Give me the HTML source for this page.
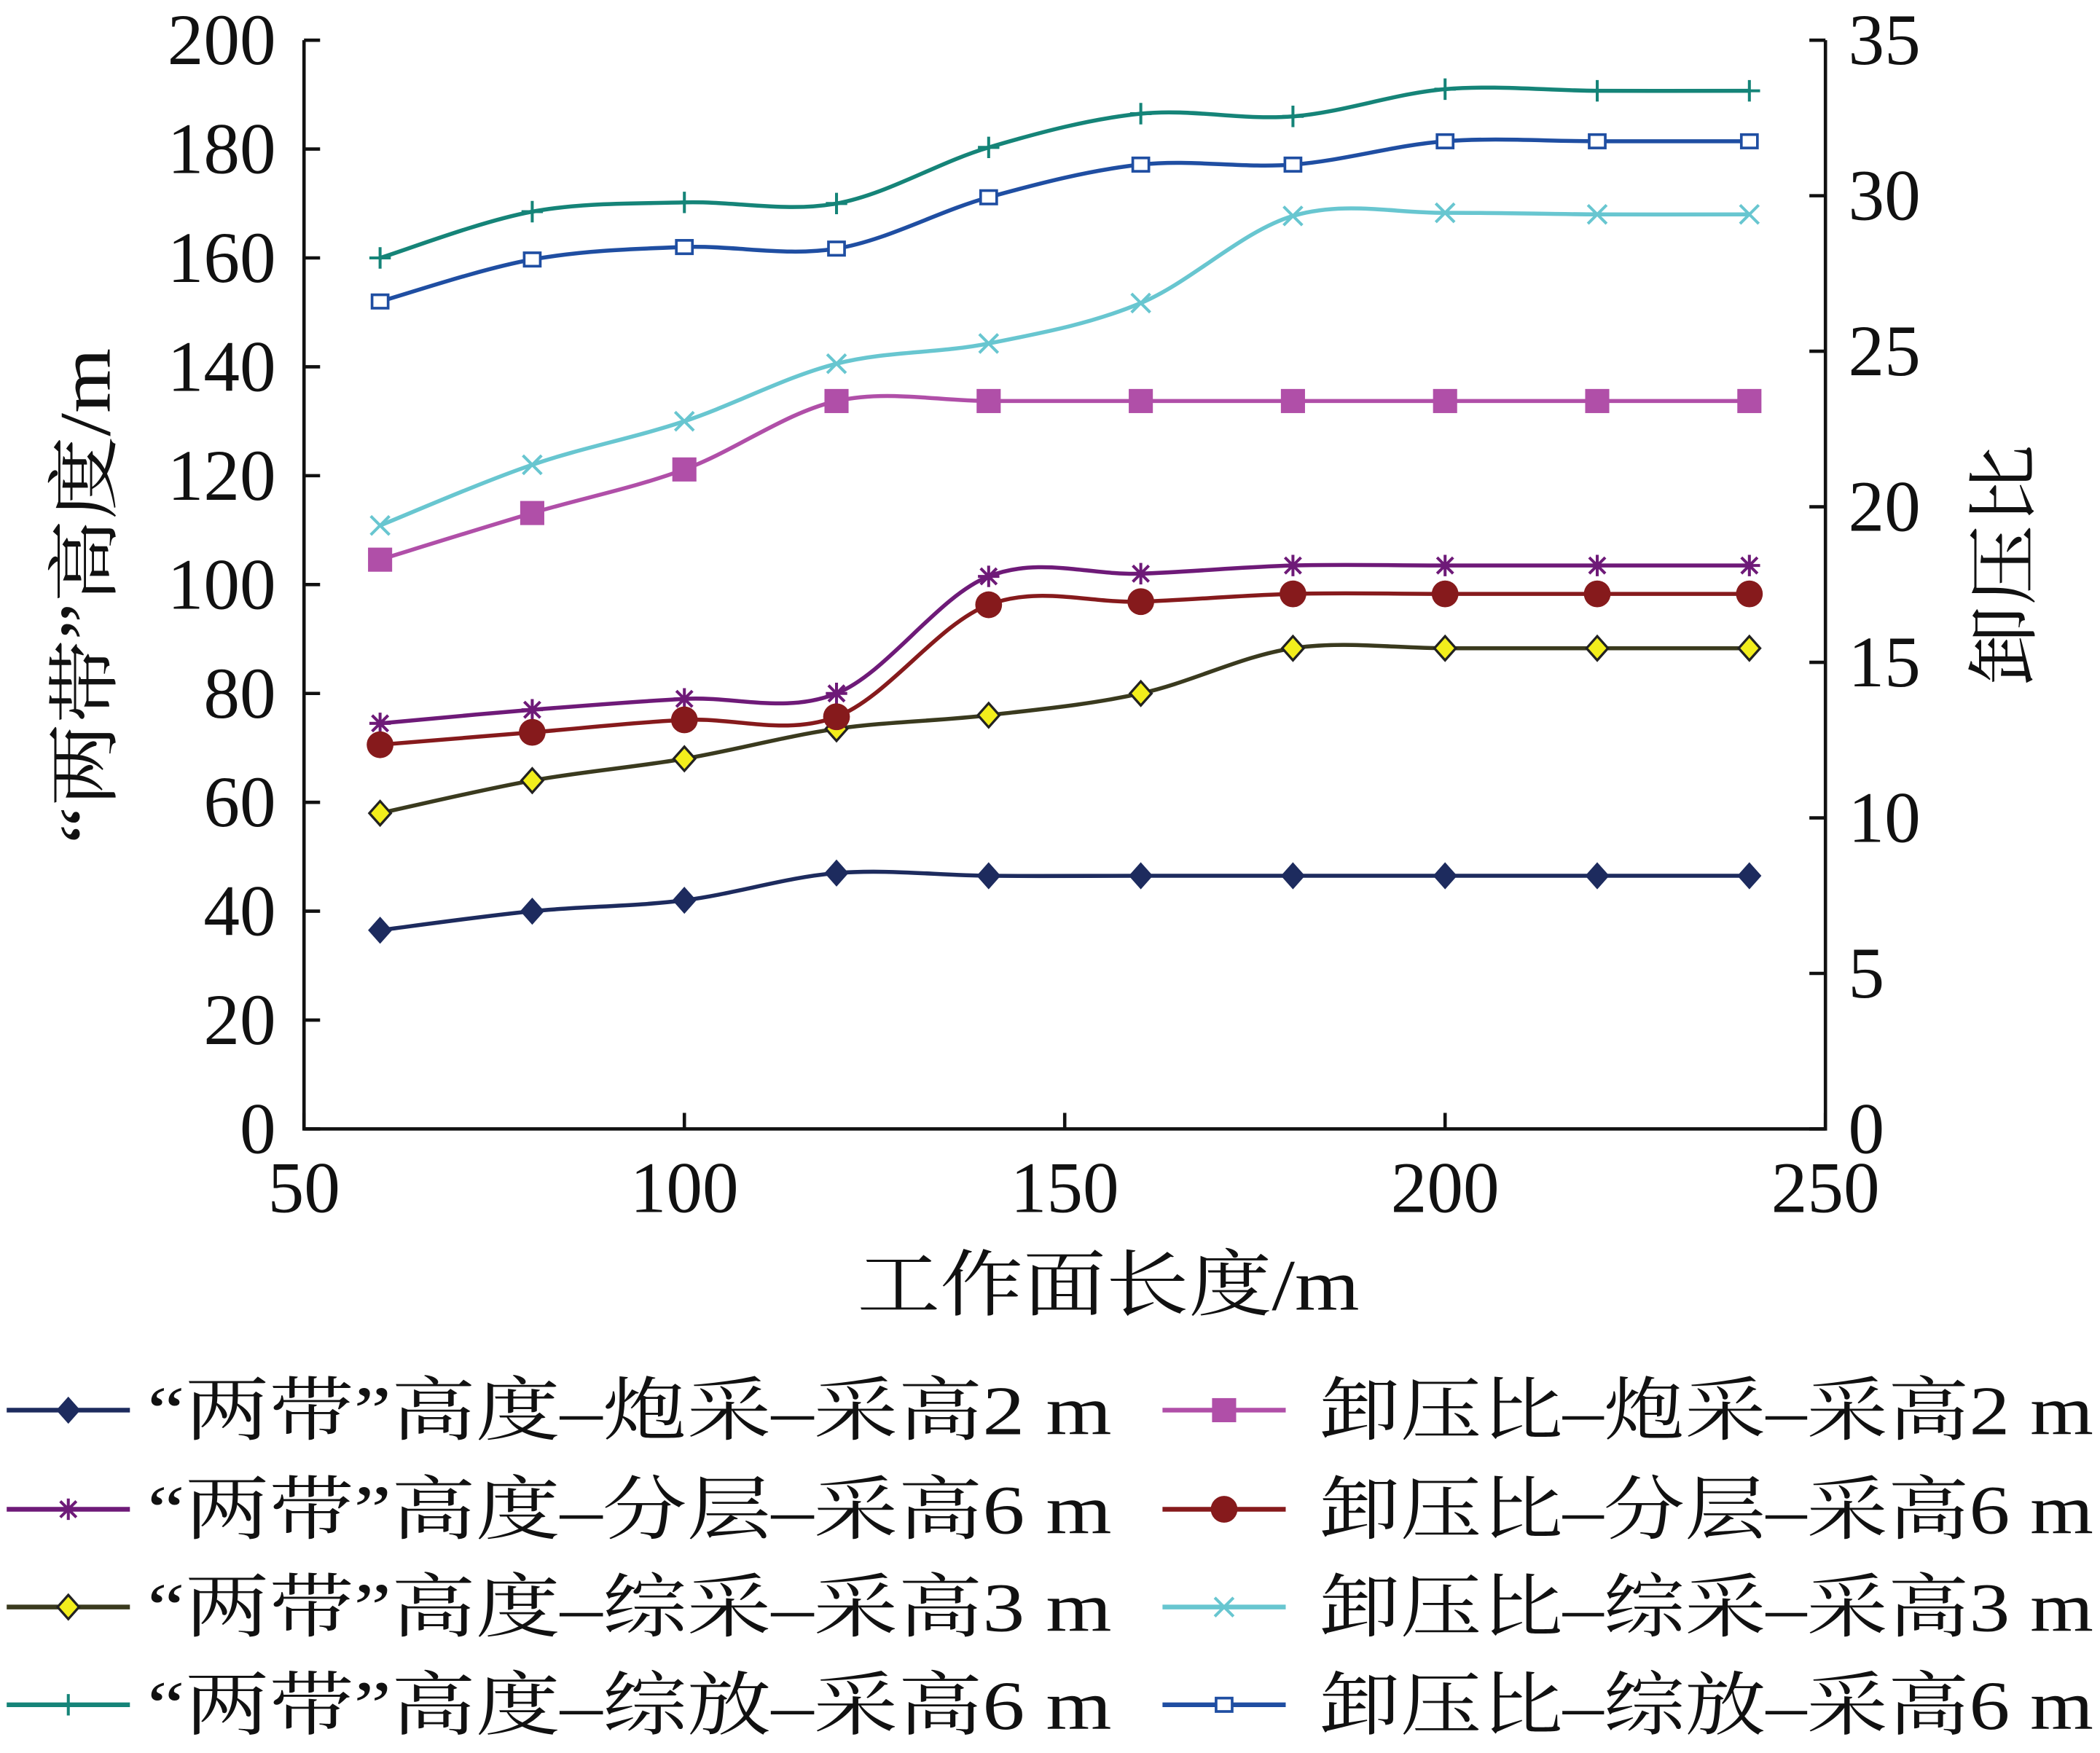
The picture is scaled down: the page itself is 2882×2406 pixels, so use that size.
<!DOCTYPE html>
<html><head><meta charset="utf-8"><style>
html,body{margin:0;padding:0;background:#fff}
svg{display:block}
text{font-family:"Liberation Serif","Noto Serif CJK SC","Noto Sans CJK SC",serif;fill:#111}
</style></head><body>
<svg id="chart" width="2882" height="2406" viewBox="0 0 1568 1309" preserveAspectRatio="none" xmlns="http://www.w3.org/2000/svg">
<g id="axes"></g>
<g id="series"></g>
<g id="legend"></g>
</svg>
<script>
const xCats = [60,80,100,120,140,160,180,200,220,240];
const band2m = [36.5,40,42,47,46.5,46.5,46.5,46.5,46.5,46.5];
const band6mLayer = [74.5,77,79,80,101.5,102,103.5,103.5,103.5,103.5];
const band3m = [58,64,68,73.5,76,80,88.3,88.3,88.3,88.3];
const band6mTop = [160,168.5,170.2,170,180.3,186.5,186,191,190.7,190.7];
const ratio2m = [18.3,19.8,21.2,23.4,23.4,23.4,23.4,23.4,23.4,23.4];
const ratio6mLayer = [12.35,12.75,13.15,13.25,16.85,16.95,17.2,17.2,17.2,17.2];
const ratio3m = [19.4,21.35,22.75,24.6,25.25,26.55,29.35,29.45,29.4,29.4];
const ratio6mTop = [26.6,27.95,28.35,28.3,29.95,31.0,31.0,31.75,31.75,31.75];
const xTicks = [50,100,150,200,250];
const yLeftTicks = [0,20,40,60,80,100,120,140,160,180,200];
const yRightTicks = [0,5,10,15,20,25,30,35];

const L=227,R=1363,T=30,B=843;
const X=v=>L+(v-50)/200*(R-L);
const YL=v=>B-v/200*(B-T);
const YR=v=>B-v/35*(B-T);
const NS="http://www.w3.org/2000/svg";
function mk(tag,attrs,parent){const e=document.createElementNS(NS,tag);for(const k in attrs)e.setAttribute(k,attrs[k]);parent.appendChild(e);return e;}
const axes=document.getElementById('axes'),sg=document.getElementById('series'),lg=document.getElementById('legend');

let a=mk('path',{d:`M${L},${T}V${B}H${R}V${T}`,fill:'none',stroke:'#111','stroke-width':2.5},axes);


yLeftTicks.forEach(v=>{
 let y=YL(v);
 let t=mk('line',{x1:L,x2:L+12,y1:y,y2:y,stroke:'#111','stroke-width':2.5},axes);
 
 
 let tx=mk('text',{x:206,y:y+18,'text-anchor':'end','font-size':54},axes);tx.textContent=v;
 
 
});
yRightTicks.forEach(v=>{
 let y=YR(v);
 let t=mk('line',{x1:R-12,x2:R,y1:y,y2:y,stroke:'#111','stroke-width':2.5},axes);
 
 
 let tx=mk('text',{x:1380,y:y+18,'text-anchor':'start','font-size':54},axes);tx.textContent=v;
 
 
});
xTicks.forEach(v=>{
 let x=X(v);
 let t=mk('line',{x1:x,x2:x,y1:B-12,y2:B,stroke:'#111','stroke-width':2.5},axes);
 
 
 let tx=mk('text',{x:x,y:905,'text-anchor':'middle','font-size':54},axes);tx.textContent=v;
 
 
});
let xt=mk('text',{x:640,y:978,'font-size':54,textLength:375,lengthAdjust:'spacingAndGlyphs'},axes);xt.textContent='工作面长度/m';


let yt=mk('text',{x:-185,y:0,'font-size':54,textLength:370,lengthAdjust:'spacingAndGlyphs',transform:'translate(82,445) rotate(-90)'},axes);yt.textContent='“两带”高度/m';


let rt=mk('text',{x:-90,y:0,'font-size':54,textLength:180,lengthAdjust:'spacingAndGlyphs',transform:'translate(1515,422) rotate(-90)'},axes);rt.textContent='卸压比';



function smooth(pts){
 let d=`M${pts[0][0]},${pts[0][1]}`;
 for(let i=0;i<pts.length-1;i++){
  const p0=pts[Math.max(0,i-1)],p1=pts[i],p2=pts[i+1],p3=pts[Math.min(pts.length-1,i+2)];
  const c1=[p1[0]+(p2[0]-p0[0])/6,p1[1]+(p2[1]-p0[1])/6];
  const c2=[p2[0]-(p3[0]-p1[0])/6,p2[1]-(p3[1]-p1[1])/6];
  d+=`C${c1[0]},${c1[1]} ${c2[0]},${c2[1]} ${p2[0]},${p2[1]}`;
 }
 return d;
}
function marker(type,x,y,c,p){
 let e;
 if(type==='diamond')e=mk('path',{d:`M${x},${y-9}L${x+8},${y}L${x},${y+9}L${x-8},${y}Z`,fill:c,stroke:c,'stroke-width':1.5},p);
 else if(type==='ydiamond')e=mk('path',{d:`M${x},${y-9}L${x+8},${y}L${x},${y+9}L${x-8},${y}Z`,fill:'#f2ee1c',stroke:'#222','stroke-width':1.8},p);
 else if(type==='square')e=mk('rect',{x:x-9,y:y-9,width:18,height:18,fill:c},p);
 else if(type==='osquare')e=mk('rect',{x:x-6,y:y-5,width:12,height:10,fill:'#fff',stroke:c,'stroke-width':2},p);
 else if(type==='circle')e=mk('circle',{cx:x,cy:y,r:10,fill:c},p);
 else if(type==='plus')e=mk('path',{d:`M${x-8},${y}H${x+8}M${x},${y-8}V${y+8}`,stroke:c,'stroke-width':2.2,fill:'none'},p);
 else if(type==='x')e=mk('path',{d:`M${x-7},${y-7}L${x+7},${y+7}M${x+7},${y-7}L${x-7},${y+7}`,stroke:c,'stroke-width':2.2,fill:'none'},p);
 else if(type==='star')e=mk('path',{d:`M${x-8},${y}H${x+8}M${x},${y-8}V${y+8}M${x-6},${y-6}L${x+6},${y+6}M${x+6},${y-6}L${x-6},${y+6}`,stroke:c,'stroke-width':2.2,fill:'none'},p);
 
 
}
const series=[
 {name:'band-2m-blast',data:band2m,ax:YL,c:'#1d2b5e',m:'diamond',label:'“两带”高度–炮采–采高2 m',col:0,row:0},
 {name:'band-6m-layer',data:band6mLayer,ax:YL,c:'#6e1a78',m:'star',label:'“两带”高度–分层–采高6 m',col:0,row:1},
 {name:'band-3m-full',data:band3m,ax:YL,c:'#3a3a1e',m:'ydiamond',label:'“两带”高度–综采–采高3 m',col:0,row:2},
 {name:'band-6m-top',data:band6mTop,ax:YL,c:'#158478',m:'plus',label:'“两带”高度–综放–采高6 m',col:0,row:3},
 {name:'ratio-2m-blast',data:ratio2m,ax:YR,c:'#b04fa8',m:'square',label:'卸压比–炮采–采高2 m',col:1,row:0},
 {name:'ratio-6m-layer',data:ratio6mLayer,ax:YR,c:'#861a1c',m:'circle',label:'卸压比–分层–采高6 m',col:1,row:1},
 {name:'ratio-3m-full',data:ratio3m,ax:YR,c:'#68c6d0',m:'x',label:'卸压比–综采–采高3 m',col:1,row:2},
 {name:'ratio-6m-top',data:ratio6mTop,ax:YR,c:'#1f4ea2',m:'osquare',label:'卸压比–综放–采高6 m',col:1,row:3},
];
const rowsY=[1053,1127,1200,1273];
series.forEach(s=>{
 const g=mk('g',{},sg);
 
 
 const pts=xCats.map((x,i)=>[X(x),s.ax(s.data[i])]);
 const ln=mk('path',{d:smooth(pts),fill:'none',stroke:s.c,'stroke-width':3},g);
 
 
 pts.forEach(p=>marker(s.m,p[0],p[1],s.c,g));
 const lgE=mk('g',{},lg);
 
 
 const x0=s.col?868:5, y=rowsY[s.row];
 mk('line',{x1:x0,x2:x0+92,y1:y,y2:y,stroke:s.c,'stroke-width':3.5},lgE);
 marker(s.m,x0+46,y,s.c,lgE);
 const t=mk('text',{x:s.col?985:110,y:y+18,'font-size':52,textLength:s.col?578:720,lengthAdjust:'spacingAndGlyphs'},lgE);t.textContent=s.label;
 
 
});
</script>
</body></html>
